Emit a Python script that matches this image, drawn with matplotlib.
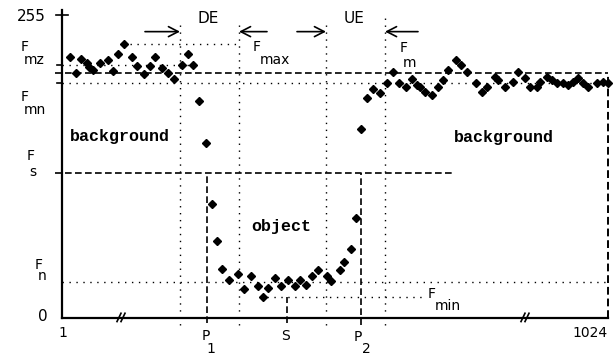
import matplotlib
matplotlib.use("Agg")
import matplotlib.pyplot as plt

# gray level profile along the scan line (x = position, y = gray level)
bg_left_x = [8, 14, 19, 25, 27, 31, 38, 46, 51, 56, 62, 70, 75, 82, 88, 93, 100, 106, 112, 120, 126, 131]
bg_left_y = [220, 206, 218, 215, 211, 209, 215, 217, 208, 222, 231, 220, 212, 205, 212, 220, 210, 206, 201, 213, 222, 213]
obj_x = [137, 144, 150, 155, 160, 167, 176, 182, 189, 196, 201, 206, 213, 219, 226, 233, 238, 244, 250, 256,
         265, 269, 278, 282, 289, 294, 299, 305, 311, 318]
obj_y = [183, 147, 96, 65, 41, 32, 37, 24, 35, 27, 18, 25, 34, 27, 32, 27, 32, 28, 35, 40,
         35, 31, 40, 47, 58, 84, 159, 185, 193, 189]
bg_right_x = [325, 331, 337, 344, 350, 355, 358, 363, 370, 376, 381, 386, 394, 399, 405, 414, 420, 425, 433, 436,
              443, 451, 456, 463, 468, 475, 478, 485, 490, 495, 501, 506, 511, 516, 521, 526, 535, 541, 546]
bg_right_y = [198, 207, 198, 194, 201, 196, 194, 190, 188, 194, 200, 209, 217, 213, 207, 198, 190, 194, 203, 200,
              194, 199, 207, 202, 194, 194, 199, 203, 200, 198, 198, 196, 199, 202, 198, 194, 198, 199, 198]

# levels
F_max = 231
F_mz = 213
F_m = 206
F_mn = 198
F_s = 122
F_n = 30
F_min = 18

# positions
DE = [118, 177]
UE = [264, 323]
P1 = 145
P2 = 299
S = 225
x_end = 546

fig = plt.figure(figsize=(6.13, 3.55), dpi=100)
ax = fig.add_axes([62/613, 37/355, 546/613, 303/355])
ax.set_xlim(0, x_end)
ax.set_ylim(0, 255)
for s in ["top", "right"]:
    ax.spines[s].set_visible(False)
ax.spines["left"].set_linewidth(1.6)
ax.spines["bottom"].set_linewidth(1.6)
ax.set_xticks([])
ax.set_yticks([])

dot = (0, (1, 4))
dash = (0, (4, 2))
k = dict(color="black", clip_on=False)

# horizontal levels
ax.plot([-7, x_end], [F_m, F_m], ls=dash, lw=1.2, **k)
ax.plot([0, x_end], [F_mn, F_mn], ls=dot, lw=1.0, **k)
ax.plot([0, 138], [F_mz, F_mz], ls=dot, lw=1.0, **k)
ax.plot([68, 178], [F_max, F_max], ls=dot, lw=1.0, **k)
ax.plot([-7, 391], [F_s, F_s], ls=dash, lw=1.2, **k)
ax.plot([0, x_end], [F_n, F_n], ls=dot, lw=1.0, **k)
ax.plot([198, 361], [F_min, F_min], ls=dot, lw=1.0, **k)

# vertical lines
ax.plot([DE[0], DE[0]], [-6, 247], ls=dot, lw=1.0, **k)
ax.plot([DE[1], DE[1]], [-6, 248], ls=dot, lw=1.0, **k)
ax.plot([UE[0], UE[0]], [-6, 251], ls=dot, lw=1.0, **k)
ax.plot([UE[1], UE[1]], [-6, 253], ls=dot, lw=1.0, **k)
ax.plot([P1, P1], [-4, F_s], ls=dash, lw=1.2, **k)
ax.plot([P2, P2], [-6, F_s], ls=dash, lw=1.2, **k)
ax.plot([S, S], [-4, F_min], ls=dash, lw=1.2, **k)
ax.plot([x_end, x_end], [0, F_m], ls=dash, lw=1.4, **k)

# axis ticks
ax.plot([-6, 6], [255, 255], lw=1.2, **k)
ax.plot([0, 0], [255, 259], lw=1.6, **k)
ax.plot([-5, 0], [F_mz, F_mz], lw=1.2, **k)
ax.plot([-5, 0], [F_mn, F_mn], lw=1.2, **k)

# axis breaks
for bx in [58, 462]:
    ax.plot([bx - 3, bx + 1], [-3, 4], lw=1.2, **k)
    ax.plot([bx + 1, bx + 5], [-3, 4], lw=1.2, **k)

# arrows for DE and UE
arr_y = 241
aprops = dict(arrowstyle="->,head_length=0.7,head_width=0.36", color="black", lw=1.2, mutation_scale=10,
              shrinkA=0, shrinkB=0)
ax.annotate("", xy=(DE[0], arr_y), xytext=(83, arr_y), arrowprops=aprops, annotation_clip=False)
ax.annotate("", xy=(DE[1], arr_y), xytext=(205, arr_y), arrowprops=aprops, annotation_clip=False)
ax.annotate("", xy=(UE[0], arr_y), xytext=(235, arr_y), arrowprops=aprops, annotation_clip=False)
ax.annotate("", xy=(UE[1], arr_y), xytext=(356, arr_y), arrowprops=aprops, annotation_clip=False)

# data points
ax.plot(bg_left_x, bg_left_y, "D", ms=3.6, color="black", clip_on=False)
ax.plot(obj_x, obj_y, "D", ms=3.6, color="black", clip_on=False)
ax.plot(bg_right_x, bg_right_y, "D", ms=3.6, color="black", clip_on=False)

# labels
t = dict(color="black", fontsize=10, family="DejaVu Sans", clip_on=False)
ax.text(-16, 254, "255", ha="right", va="center", **{**t, "fontsize": 11})
ax.text(-41, 228, "F", ha="left", va="center", **t)
ax.text(-38, 217, "mz", ha="left", va="center", **t)
ax.text(-41, 186, "F", ha="left", va="center", **t)
ax.text(-38, 175, "mn", ha="left", va="center", **t)
ax.text(-35, 136, "F", ha="left", va="center", **t)
ax.text(-33, 123, "s", ha="left", va="center", **t)
ax.text(-27, 45, "F", ha="left", va="center", **t)
ax.text(-24, 35, "n", ha="left", va="center", **t)
ax.text(-14, 1, "0", ha="right", va="center", **{**t, "fontsize": 11})

ax.text(146, 252, "DE", ha="center", va="center", **{**t, "fontsize": 11})
ax.text(292, 252, "UE", ha="center", va="center", **{**t, "fontsize": 11})
ax.text(191, 228, "F", ha="left", va="center", **t)
ax.text(198, 217, "max", ha="left", va="center", **t)
ax.text(338, 227, "F", ha="left", va="center", **t)
ax.text(341, 215, "m", ha="left", va="center", **t)
ax.text(366, 20, "F", ha="left", va="center", **t)
ax.text(373, 10, "min", ha="left", va="center", **t)

ax.text(1, -13, "1", ha="center", va="center", **t)
ax.text(144, -15, "P", ha="center", va="center", **t)
ax.text(149, -26, "1", ha="center", va="center", **t)
ax.text(223, -15, "S", ha="center", va="center", **t)
ax.text(296, -16, "P", ha="center", va="center", **t)
ax.text(304, -26, "2", ha="center", va="center", **t)
ax.text(x_end, -13, "1024", ha="right", va="center", **t)

b = dict(color="black", fontsize=12, family="Liberation Mono", fontweight="bold", clip_on=False)
ax.text(58, 153, "background", ha="center", va="center", **b)
ax.text(442, 152, "background", ha="center", va="center", **b)
ax.text(219, 77, "object", ha="center", va="center", **b)

fig.savefig("out.png", dpi=100)
